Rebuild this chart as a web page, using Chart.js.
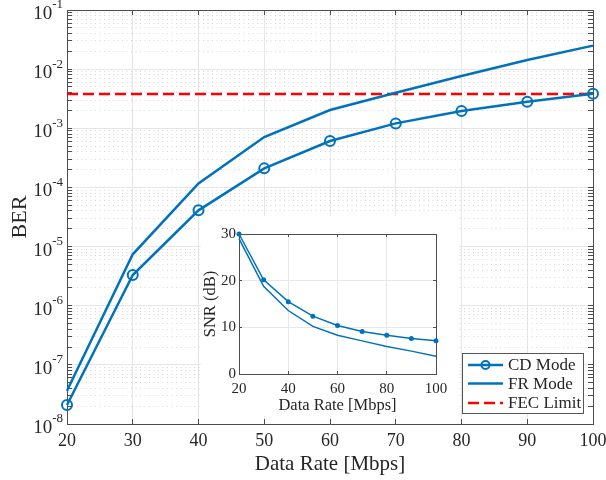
<!DOCTYPE html>
<html><head><meta charset="utf-8">
<script src="https://cdn.jsdelivr.net/npm/chart.js@4.4.0/dist/chart.umd.min.js"></script>
<style>
html,body{margin:0;padding:0;background:#fff;}
#wrap{position:relative;width:606px;height:480px;overflow:hidden;}
#main{position:absolute;left:0;top:0;}
#inset{position:absolute;left:201px;top:216px;background:#fff;}
</style></head><body>
<div id="wrap"><canvas id="main" width="606" height="480"></canvas><canvas id="inset" width="258" height="200"></canvas></div>
<script>
// ---- data ----
const dataRates = [20, 30, 40, 50, 60, 70, 80, 90, 100];
const berCD = [2.1e-8, 3.3e-6, 4.1e-5, 2.1e-4, 6.1e-4, 1.21e-3, 1.96e-3, 2.82e-3, 3.85e-3];
const berFR = [3.65e-8, 7.4e-6, 1.17e-4, 7.1e-4, 2.04e-3, 4.0e-3, 7.66e-3, 1.43e-2, 2.5e-2];
const fecLimit = 3.8e-3;
const snrCD = [30.0, 20.2, 15.5, 12.4, 10.4, 9.1, 8.3, 7.6, 7.1];
const snrFR = [29.0, 18.8, 13.6, 10.2, 8.3, 7.1, 5.9, 4.9, 3.8];
const seriesLabels = ['CD Mode', 'FR Mode', 'FEC Limit'];
const yExponents = [-8, -7, -6, -5, -4, -3, -2, -1];
const xTitle = 'Data Rate [Mbps]';
const yTitle = 'BER';
const insetYTitle = 'SNR (dB)';

// ---- styles ----
const BLUE = '#0072BD';
const RED = '#FF0000';
const SERIF = "'Liberation Serif', 'Times New Roman', serif";
const TXT = '#262626';
const AX = '#4d4d4d';

function isDecade(v) { const l = Math.log10(v); return Math.abs(l - Math.round(l)) < 1e-6; }
function buildLogTicks() {
  const t = [];
  for (let i = 0; i < yExponents.length; i++) {
    const e = yExponents[i];
    if (i === yExponents.length - 1) { t.push({value: Math.pow(10, e), major: true}); break; }
    for (let m = 1; m <= 9; m++) t.push({value: m * Math.pow(10, e), major: m === 1});
  }
  return t;
}
function noPad(s) { s.paddingLeft = 0; s.paddingRight = 0; s.paddingTop = 0; s.paddingBottom = 0; }

const yLabelPlugin = {
  id: 'yPowLabels',
  afterDraw(chart) {
    const s = chart.scales.y, ctx = chart.ctx;
    ctx.save();
    ctx.fillStyle = TXT; ctx.textBaseline = 'middle'; ctx.textAlign = 'right';
    yExponents.forEach(e => {
      const py = s.getPixelForValue(Math.pow(10, e));
      const sup = String(e);
      ctx.font = '13px ' + SERIF;
      const ws = ctx.measureText(sup).width;
      const xr = s.right - 4;
      ctx.fillText(sup, xr, py - 5);
      ctx.font = '19px ' + SERIF;
      ctx.fillText('10', xr - ws, py + 4);
    });
    ctx.restore();
  }
};

const legendPlugin = {
  id: 'boxLegend',
  afterDraw(chart) {
    const {ctx, chartArea: a} = chart;
    const w = 121, h = 60;
    const x0 = a.right - 10 - w, y0 = a.bottom - 11 - h;
    ctx.save();
    ctx.fillStyle = '#fff'; ctx.fillRect(x0, y0, w, h);
    ctx.strokeStyle = '#555'; ctx.lineWidth = 1;
    ctx.strokeRect(x0 + 0.5, y0 + 0.5, w, h);
    const rows = [12, 30.5, 50];
    chart.data.datasets.forEach((ds, i) => {
      const y = y0 + rows[i];
      ctx.strokeStyle = ds.borderColor; ctx.lineWidth = ds.borderWidth;
      ctx.setLineDash(ds.borderDash || []);
      ctx.beginPath(); ctx.moveTo(x0 + 6, y); ctx.lineTo(x0 + 41, y); ctx.stroke();
      ctx.setLineDash([]);
      if (ds.pointRadius > 0) {
        ctx.lineWidth = ds.pointBorderWidth;
        ctx.beginPath(); ctx.arc(x0 + 23.5, y, ds.pointRadius - 1, 0, Math.PI * 2); ctx.stroke();
      }
      ctx.fillStyle = TXT; ctx.font = '17px ' + SERIF;
      ctx.textAlign = 'left'; ctx.textBaseline = 'middle';
      ctx.fillText(ds.label, x0 + 46, y + 1);
    });
    ctx.restore();
  }
};

const mainYAxisBase = {
  type: 'logarithmic', min: Math.pow(10, yExponents[0]), max: Math.pow(10, yExponents[yExponents.length - 1]),
  afterBuildTicks: s => { s.ticks = buildLogTicks(); },
  ticks: {display: false}
};

new Chart(document.getElementById('main'), {
  type: 'line',
  data: {datasets: [
    {label: seriesLabels[0], data: dataRates.map((x, i) => ({x, y: berCD[i]})), borderColor: BLUE, borderWidth: 2.5,
     pointRadius: 5, pointBorderWidth: 2, pointBackgroundColor: 'rgba(0,0,0,0)', pointBorderColor: BLUE, clip: false},
    {label: seriesLabels[1], data: dataRates.map((x, i) => ({x, y: berFR[i]})), borderColor: BLUE, borderWidth: 2.5,
     pointRadius: 0, clip: false},
    {label: seriesLabels[2], data: [{x: dataRates[0], y: fecLimit}, {x: dataRates[dataRates.length - 1], y: fecLimit}],
     borderColor: RED, borderWidth: 2.5, borderDash: [11, 5], pointRadius: 0, clip: false}
  ]},
  options: {
    responsive: false, animation: false,
    layout: {padding: {top: 10, right: 13, left: 0, bottom: 0}},
    plugins: {legend: {display: false}, tooltip: {enabled: false}},
    scales: {
      x: {type: 'linear', position: 'bottom', min: 20, max: 100,
          ticks: {stepSize: 10, color: TXT, font: {family: SERIF, size: 18}, padding: 11, maxRotation: 0},
          grid: {color: '#e6e6e6', tickLength: -5, tickColor: AX},
          border: {color: AX},
          title: {display: true, text: xTitle, color: TXT, font: {family: SERIF, size: 21}, padding: {top: 0, bottom: 3}},
          afterFit: s => { s.height = 56; noPad(s); }},
      y: Object.assign({}, mainYAxisBase, {position: 'left',
          grid: {color: c => (c.tick && !isDecade(c.tick.value)) ? '#d6d6d6' : '#e6e6e6', tickLength: -5, tickColor: AX},
          border: {color: AX, dash: c => (c.tick && !isDecade(c.tick.value)) ? [1, 3.5] : []},
          title: {display: true, text: yTitle, color: TXT, font: {family: SERIF, size: 22}, padding: {top: 7, bottom: 0}},
          afterFit: s => { s.width = 67; noPad(s); }}),
      x2: {type: 'linear', position: 'top', min: 20, max: 100,
           ticks: {display: false, stepSize: 10},
           grid: {drawOnChartArea: false, tickLength: -5, tickColor: AX},
           border: {color: AX},
           afterFit: s => { s.height = 0; noPad(s); }},
      y2: Object.assign({}, mainYAxisBase, {position: 'right',
           grid: {drawOnChartArea: false, tickLength: -5, tickColor: AX},
           border: {color: AX},
           afterFit: s => { s.width = 0; noPad(s); }})
    }
  },
  plugins: [yLabelPlugin, legendPlugin]
});

// ---- inset ----
new Chart(document.getElementById('inset'), {
  type: 'line',
  data: {datasets: [
    {label: seriesLabels[0], data: dataRates.map((x, i) => ({x, y: snrCD[i]})), borderColor: BLUE, borderWidth: 1.5,
     pointRadius: 2.5, pointBackgroundColor: BLUE, pointBorderColor: BLUE, pointBorderWidth: 0, clip: false},
    {label: seriesLabels[1], data: dataRates.map((x, i) => ({x, y: snrFR[i]})), borderColor: BLUE, borderWidth: 1.5,
     pointRadius: 0, clip: false}
  ]},
  options: {
    responsive: false, animation: false,
    layout: {padding: {top: 18, right: 23, left: 0, bottom: 0}},
    plugins: {legend: {display: false}, tooltip: {enabled: false}},
    scales: {
      x: {type: 'linear', position: 'bottom', min: 20, max: 100,
          ticks: {stepSize: 20, color: TXT, font: {family: SERIF, size: 15}, padding: 9, maxRotation: 0},
          grid: {color: '#e8e8e8', tickLength: -3, tickColor: AX},
          border: {color: AX},
          title: {display: true, text: xTitle, color: TXT, font: {family: SERIF, size: 16.5}, padding: {top: 0, bottom: 0}},
          afterFit: s => { s.height = 42; noPad(s); }},
      y: {type: 'linear', position: 'left', min: 0, max: 30,
          ticks: {stepSize: 10, color: TXT, font: {family: SERIF, size: 15}, padding: 6},
          grid: {color: '#e8e8e8', tickLength: -3, tickColor: AX},
          border: {color: AX},
          title: {display: true, text: insetYTitle, color: TXT, font: {family: SERIF, size: 16.5}, padding: {top: 0, bottom: 0}},
          afterFit: s => { s.width = 38; noPad(s); }},
      x2: {type: 'linear', position: 'top', min: 20, max: 100,
           ticks: {display: false, stepSize: 20},
           grid: {drawOnChartArea: false, tickLength: -3, tickColor: AX},
           border: {color: AX},
           afterFit: s => { s.height = 0; noPad(s); }},
      y2: {type: 'linear', position: 'right', min: 0, max: 30,
           ticks: {display: false, stepSize: 10},
           grid: {drawOnChartArea: false, tickLength: -3, tickColor: AX},
           border: {color: AX},
           afterFit: s => { s.width = 0; noPad(s); }}
    }
  }
});
</script>
</body></html>
